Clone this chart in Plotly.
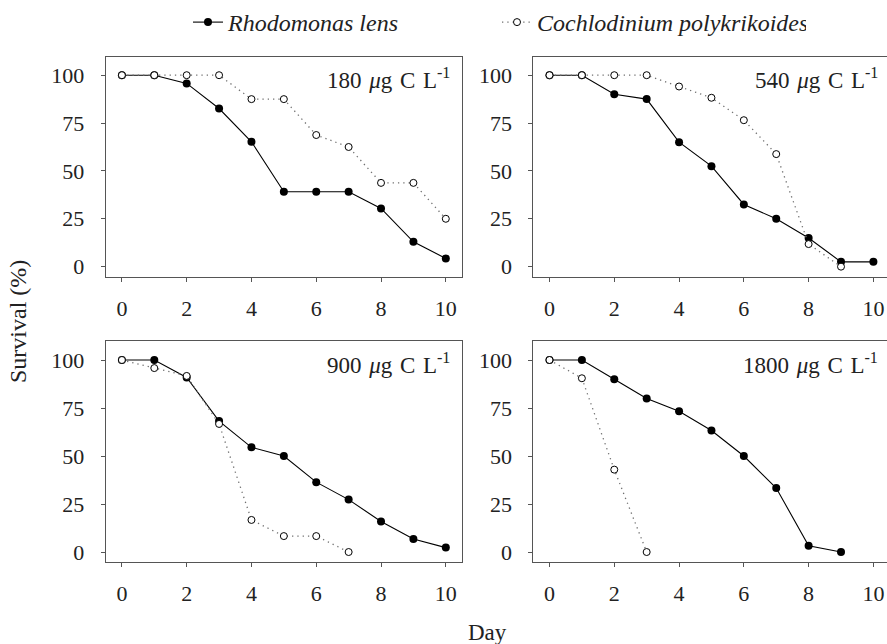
import plotly.graph_objects as go

days = list(range(11))
panel_labels = ["180", "540", "900", "1800"]

rhodo_180 = [100, 100, 95.7, 82.6, 65.2, 39.1, 39.1, 39.1, 30.4, 13.0, 4.3]
cochlo_180 = [100, 100, 100, 100, 87.5, 87.5, 68.75, 62.5, 43.75, 43.75, 25.0]

rhodo_540 = [100, 100, 90, 87.5, 65, 52.5, 32.5, 25, 15, 2.5, 2.5]
cochlo_540 = [100, 100, 100, 100, 94.1, 88.2, 76.5, 58.8, 11.8, 0]

rhodo_900 = [100, 100, 90.9, 68.2, 54.5, 50.0, 36.4, 27.3, 15.9, 6.8, 2.3]
cochlo_900 = [100, 95.8, 91.7, 66.7, 16.7, 8.3, 8.3, 0]

rhodo_1800 = [100, 100, 90, 80, 73.3, 63.3, 50, 33.3, 3.3, 0]
cochlo_1800 = [100, 90.5, 42.9, 0]

rhodo = [rhodo_180, rhodo_540, rhodo_900, rhodo_1800]
cochlo = [cochlo_180, cochlo_540, cochlo_900, cochlo_1800]

x_ticks = [0, 2, 4, 6, 8, 10]
y_ticks = [0, 25, 50, 75, 100]

W, H = 887, 644
FONT = "Liberation Serif, Times New Roman, serif"
TXT = "#222222"

# pixel layout
xdom = [(105.7 / W, 462 / W), (533.3 / W, 1.0)]
ydom = [(1 - 277 / H, 1 - 57 / H), (1 - 562 / H, 1 - 341 / H)]
xranges = [[-0.5, 10.5], [-0.5, 10.42]]
yranges = [[-5.4, 109.5], [-5.2, 109.9]]

fig = go.Figure()
for i in range(4):
    row, col = divmod(i, 2)
    ax = "" if i == 0 else str(i + 1)
    xa, ya = "x" + ax, "y" + ax
    fig.add_trace(go.Scatter(
        x=days[:len(rhodo[i])], y=rhodo[i], xaxis=xa, yaxis=ya,
        mode="lines+markers", name="<i>Rhodomonas lens</i>",
        legendgroup="r", showlegend=(i == 0),
        line=dict(color="black", width=1.1),
        marker=dict(symbol="circle", size=8, color="black")))
    fig.add_trace(go.Scatter(
        x=days[:len(cochlo[i])], y=cochlo[i], xaxis=xa, yaxis=ya,
        mode="lines+markers", name="<i>Cochlodinium polykrikoides</i>",
        legendgroup="c", showlegend=(i == 0),
        line=dict(color="#707070", width=1.3, dash="1.3px,4px"),
        marker=dict(symbol="circle", size=7, color="white",
                    line=dict(color="black", width=1))))
    axstyle = dict(showline=True, mirror=True, linecolor="#555555", linewidth=1,
                   ticks="outside", ticklen=4, tickcolor="#555555", tickwidth=1,
                   showgrid=False, zeroline=False,
                   tickfont=dict(family=FONT, size=22, color=TXT))
    fig.layout["xaxis" + ax] = dict(domain=list(xdom[col]), range=xranges[col],
                                    anchor=ya, tickvals=x_ticks,
                                    ticklabelstandoff=8, **axstyle)
    fig.layout["yaxis" + ax] = dict(domain=list(ydom[row]), range=yranges[row],
                                    anchor=xa, tickvals=y_ticks,
                                    ticklabelstandoff=12, **axstyle)
    lab_x = (452 if col == 0 else 880) / W
    lab_y = 1 - ((78 if row == 0 else 363) / H)
    fig.add_annotation(xref="paper", yref="paper", x=lab_x, y=lab_y,
                       xanchor="right", yanchor="middle", showarrow=False,
                       text=panel_labels[i] + "\u2004<i>\u03bc</i>g\u2004C\u2004L<sup>-1</sup>",
                       font=dict(family=FONT, size=23, color=TXT))

fig.add_annotation(xref="paper", yref="paper", x=18 / W, y=1 - 322 / H,
                   textangle=-90, showarrow=False, xanchor="center", yanchor="middle",
                   text="Survival (%)", font=dict(family=FONT, size=24, color=TXT))
fig.add_annotation(xref="paper", yref="paper", x=488 / W, y=1 - 632 / H,
                   showarrow=False, xanchor="center", yanchor="middle",
                   text="Day", font=dict(family=FONT, size=23, color=TXT))

fig.update_layout(
    width=W, height=H, margin=dict(l=0, r=0, t=0, b=0, autoexpand=False),
    plot_bgcolor="white", paper_bgcolor="white",
    showlegend=True,
    legend=dict(orientation="h", x=188 / W, xanchor="left", y=1.0, yanchor="top",
                font=dict(family=FONT, size=24, color=TXT),
                entrywidth=264, bgcolor="rgba(0,0,0,0)"),
)
fig.write_html(
    "out.html",
    config={"displayModeBar": False},
    post_script="document.body.style.margin='0';document.body.style.overflow='hidden';",
)
